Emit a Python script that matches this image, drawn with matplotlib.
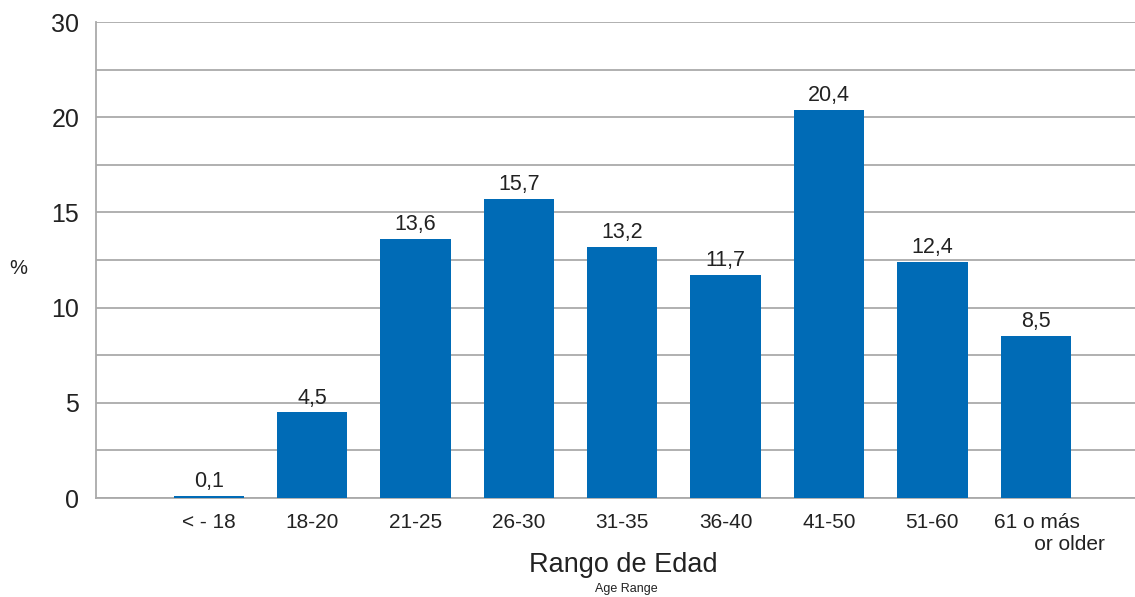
import matplotlib
matplotlib.use("Agg")
import matplotlib.pyplot as plt
import matplotlib.transforms as mtransforms
import numpy as np

plt.rcParams['font.family'] = ['Liberation Sans', 'DejaVu Sans']

categories = ["< - 18", "18-20", "21-25", "26-30", "31-35", "36-40", "41-50", "51-60",
              "61 o más\n       or older"]
values = [0.1, 4.5, 13.6, 15.7, 13.2, 11.7, 20.4, 12.4, 8.5]
value_labels = ["0,1", "4,5", "13,6", "15,7", "13,2", "11,7", "20,4", "12,4", "8,5"]
# the source chart labels its top gridline (25) as "30"
ytick_pos = [0, 5, 10, 15, 20, 25]
ytick_labels = ["0", "5", "10", "15", "20", "30"]

fig = plt.figure(figsize=(11.35, 5.97), dpi=100)
ax = fig.add_axes([96/1135, 1 - 498/597, 1 - 96/1135, (498 - 22)/597])

x = np.arange(len(categories))
bar_color = "#006bb6"
ax.bar(x, values, width=0.68, color=bar_color, zorder=3)

for xi, v, lab in zip(x, values, value_labels):
    ax.text(xi, v + 0.2, lab, ha='center', va='bottom', fontsize=15.5, color='#222222', zorder=4)

ax.set_xlim(-1.09, len(categories) - 1 + 0.96)
ax.set_ylim(0, 25)
ax.set_yticks(ytick_pos)
ax.set_yticklabels(ytick_labels, fontsize=18, color='#222222')
ax.set_yticks(np.arange(0, 25.01, 2.5), minor=True)
ax.yaxis.grid(True, which='both', color='#aaaaaa', linewidth=1.3, zorder=0)
ax.tick_params(axis='y', which='both', length=0, pad=12)

ax.set_xticks(x)
ax.set_xticklabels(categories, fontsize=15, color='#222222', multialignment='left')
ax.tick_params(axis='x', length=0, pad=11)
last = ax.get_xticklabels()[-1]
last.set_transform(last.get_transform() + mtransforms.ScaledTranslation(14/100, 0, fig.dpi_scale_trans))

for s in ['top', 'right']:
    ax.spines[s].set_visible(False)
for s in ['left', 'bottom']:
    ax.spines[s].set_color('#aaaaaa')
    ax.spines[s].set_linewidth(1.3)

fig.text(18/1135, 1 - 268/597, "%", fontsize=14.5, ha='center', va='center', color='#222222')
fig.text(623/1135, 1 - 565/597, "Rango de Edad", fontsize=19.5, ha='center', va='center', color='#222222')
fig.text(626/1135, 1 - 589/597, "Age Range", fontsize=9, ha='center', va='center', color='#222222')

fig.savefig("out.png", dpi=100)
